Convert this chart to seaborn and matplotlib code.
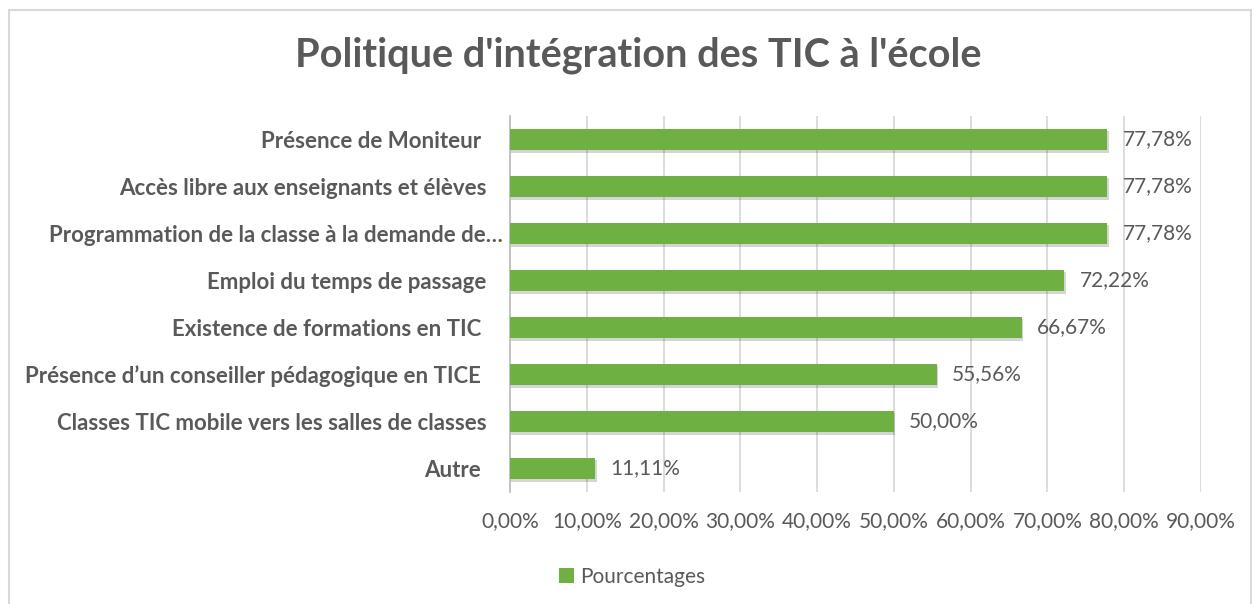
import matplotlib
matplotlib.use("Agg")
import matplotlib.pyplot as plt
import seaborn as sns
import pandas as pd
from matplotlib.patches import Rectangle, Patch
from matplotlib.ticker import FuncFormatter, MultipleLocator
from matplotlib.transforms import ScaledTranslation
import matplotlib.patheffects as pe

# ---- data ----
categories = [
    "Présence de Moniteur ",
    "Accès libre aux enseignants et élèves",
    "Programmation de la classe à la demande de…",
    "Emploi du temps de passage",
    "Existence de formations en TIC ",
    "Présence d’un conseiller pédagogique en TICE ",
    "Classes TIC mobile vers les salles de classes",
    "Autre ",
]
values = [77.78, 77.78, 77.78, 72.22, 66.67, 55.56, 50.00, 11.11]
series_name = "Pourcentages"
title = "Politique d'intégration des TIC à l'école"

sns.set_theme(style="white")
plt.rcParams["font.family"] = ["Lato", "DejaVu Sans"]

TEXT = "#595959"
GREEN = "#6fb043"
GRID = "#d9d9d9"

df = pd.DataFrame({"cat": categories, "val": values, "serie": series_name})

W, H = 1252, 604
fig = plt.figure(figsize=(W / 100, H / 100), dpi=100)
ax = fig.add_axes([510 / W, 1 - 492 / H, 691 / W, 376 / H])

sns.barplot(data=df, x="val", y="cat", hue="serie", palette=[GREEN], saturation=1,
            orient="h", width=0.46, ax=ax, legend=False, zorder=3)

for p in ax.patches:
    p.set_edgecolor("none")
    p.set_path_effects([pe.SimplePatchShadow(offset=(1, -2), alpha=0.22, shadow_rgbFace="#404040"),
                        pe.Normal()])

ax.set_xlim(0, 90)
ax.set_ylim(len(categories) - 0.5, -0.5)
ax.xaxis.set_major_locator(MultipleLocator(10))
ax.xaxis.set_major_formatter(FuncFormatter(lambda v, p: f"{v:.2f}".replace(".", ",") + "%"))
ax.grid(axis="x", color=GRID, linewidth=1.3, zorder=0)
ax.set_axisbelow(True)
for s in ["top", "right", "bottom"]:
    ax.spines[s].set_visible(False)
ax.spines["left"].set_color("#bfbfbf")
ax.spines["left"].set_linewidth(1.3)
ax.set_xlabel("")
ax.set_ylabel("")
ax.tick_params(axis="x", length=0, pad=14, labelsize=15, labelcolor=TEXT)
ax.tick_params(axis="y", length=0, pad=17, labelsize=16, labelcolor=TEXT)
for lab in ax.get_yticklabels():
    lab.set_fontweight("bold")
    if lab.get_text().startswith("Programmation"):
        lab.set_transform(lab.get_transform() + ScaledTranslation(0.16, 0, fig.dpi_scale_trans))

for i, v in enumerate(values):
    ax.annotate(f"{v:.2f}".replace(".", ",") + "%", xy=(v, i), xytext=(11, 0),
                textcoords="offset points", va="center", ha="left",
                fontsize=15, color=TEXT)

fig.text(638 / W, 1 - 66 / H, title, ha="center", va="baseline",
         fontsize=28.5, fontweight="bold", color=TEXT)

fig.legend(handles=[Patch(facecolor=GREEN, edgecolor="none")], labels=[series_name],
           loc="center", bbox_to_anchor=(632 / W, 1 - 577 / H), frameon=False,
           fontsize=15, labelcolor=TEXT, handlelength=0.7, handleheight=0.7,
           handletextpad=0.3)

fig.patches.append(Rectangle((9 / W, -0.05), (W - 10) / W, 1 - 10 / H + 0.05,
                             transform=fig.transFigure, fill=False,
                             edgecolor="#d9d9d9", linewidth=1.5))

fig.savefig("out.png", dpi=100, facecolor="white")
